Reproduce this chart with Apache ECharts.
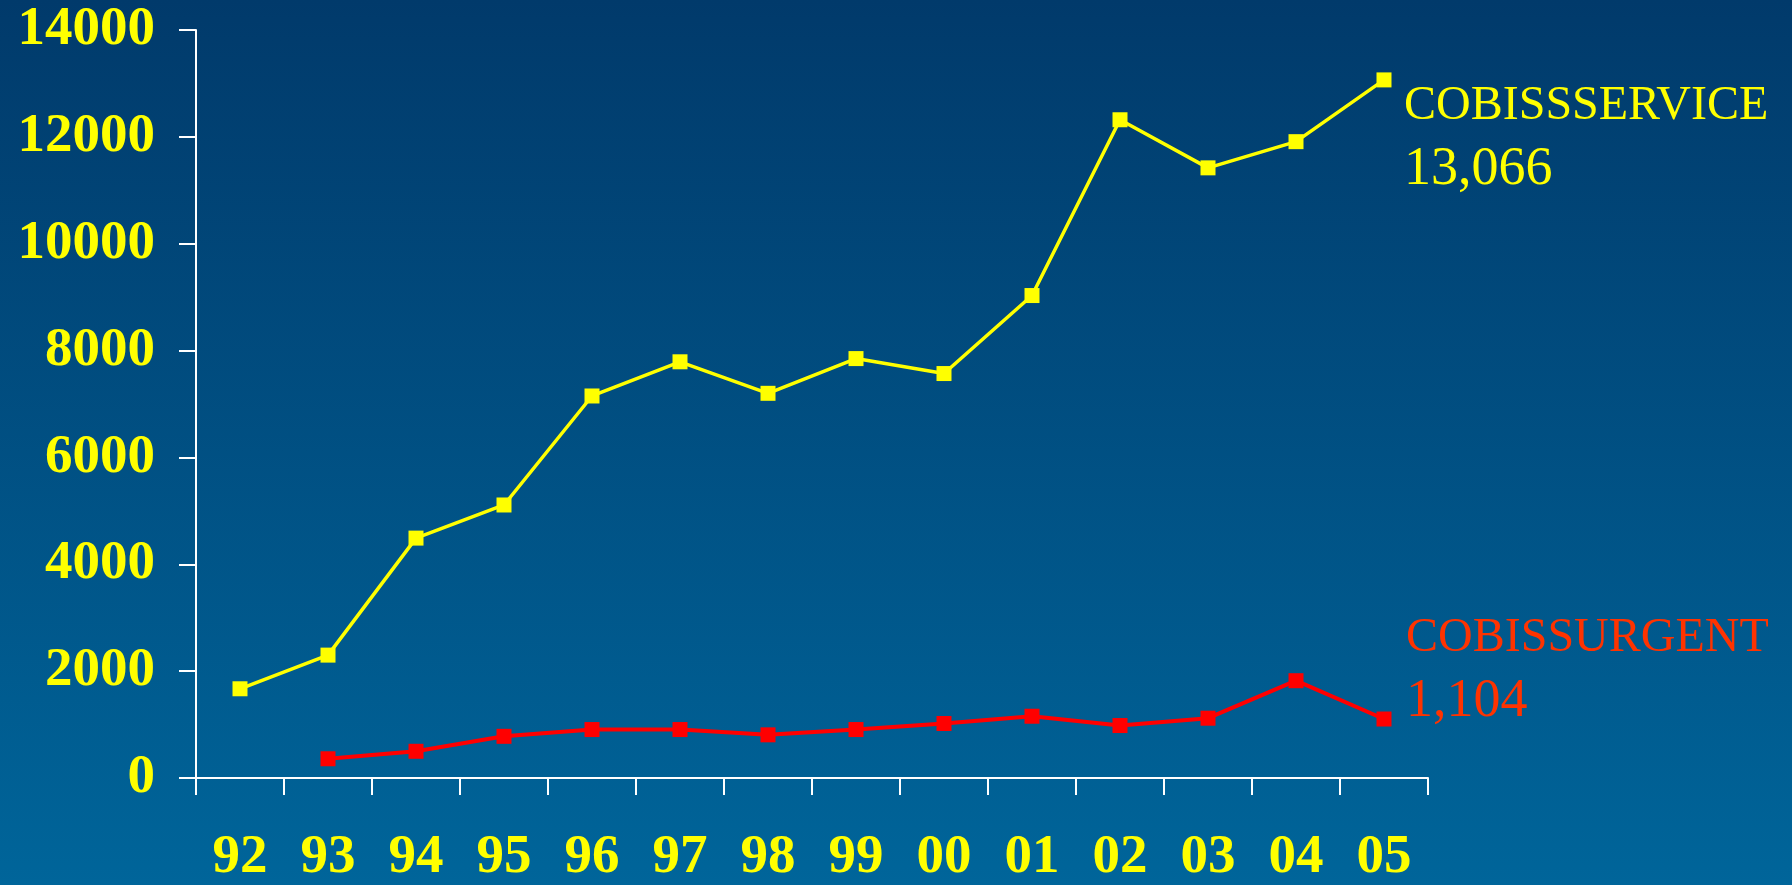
<!DOCTYPE html>
<html>
<head>
<meta charset="utf-8">
<script src="https://cdn.jsdelivr.net/npm/echarts@6/dist/echarts.min.js"></script>
<style>
  html, body { margin: 0; padding: 0; }
  #chart { width: 1792px; height: 885px; }
</style>
</head>
<body>
<div id="chart"></div>
<script>
const years = ['92', '93', '94', '95', '96', '97', '98', '99', '00', '01', '02', '03', '04', '05'];
const serviceValues = [1670, 2300, 4490, 5110, 7150, 7790, 7200, 7850, 7570, 9030, 12320, 11420, 11910, 13066];
const urgentValues = [null, 360, 500, 780, 907, 907, 808, 907, 1020, 1156, 982, 1119, 1821, 1104];
const serviceName = 'COBISSSERVICE';
const urgentName = 'COBISSURGENT';
const yMin = 0, yMax = 14000, yStep = 2000;

const fmt = v => v.toLocaleString('en-US');
const serif = '"Liberation Serif", "Times New Roman", serif';

function endLabel(name, color, offset) {
  return {
    show: true,
    formatter: p => '{n|' + name + '}\n{v|' + fmt(p.value) + '}',
    color: color,
    fontFamily: serif,
    align: 'left',
    verticalAlign: 'top',
    distance: 0,
    offset: offset,
    rich: {
      n: { color: color, fontFamily: serif, fontSize: 48, lineHeight: 63 },
      v: { color: color, fontFamily: serif, fontSize: 54, lineHeight: 63 }
    }
  };
}

const chart = echarts.init(document.getElementById('chart'));
chart.setOption({
  animation: false,
  backgroundColor: new echarts.graphic.LinearGradient(0, 0, 0, 1, [
    { offset: 0, color: '#013a6b' },
    { offset: 1, color: '#00659a' }
  ]),
  grid: { left: 196, right: 364, top: 30, bottom: 104, containLabel: false },
  xAxis: {
    type: 'category',
    data: years,
    boundaryGap: true,
    axisLine: { lineStyle: { color: '#ffffff', width: 2 } },
    axisTick: { show: true, length: 17, lineStyle: { color: '#ffffff', width: 2 } },
    axisLabel: { color: '#ffff00', fontFamily: serif, fontWeight: 'bold', fontSize: 55, margin: 52 },
    splitLine: { show: false }
  },
  yAxis: {
    type: 'value',
    min: yMin, max: yMax, interval: yStep,
    axisLine: { show: true, lineStyle: { color: '#ffffff', width: 2 } },
    axisTick: { show: true, length: 17, lineStyle: { color: '#ffffff', width: 2 } },
    axisLabel: {
      color: '#ffff00', fontFamily: serif, fontWeight: 'bold', fontSize: 55, margin: 41,
      formatter: v => String(v)
    },
    splitLine: { show: false }
  },
  series: [
    {
      name: serviceName,
      type: 'line',
      data: serviceValues,
      symbol: 'rect',
      symbolSize: 15,
      lineStyle: { color: '#ffff00', width: 3.5 },
      itemStyle: { color: '#ffff00' },
      endLabel: endLabel(serviceName, '#ffff00', [20, -5]),
      z: 3
    },
    {
      name: urgentName,
      type: 'line',
      data: urgentValues,
      symbol: 'rect',
      symbolSize: 15,
      lineStyle: { color: '#ff0000', width: 4 },
      itemStyle: { color: '#ff0000' },
      endLabel: endLabel(urgentName, '#ff3300', [22, -112]),
      z: 2
    }
  ]
});
</script>
</body>
</html>
